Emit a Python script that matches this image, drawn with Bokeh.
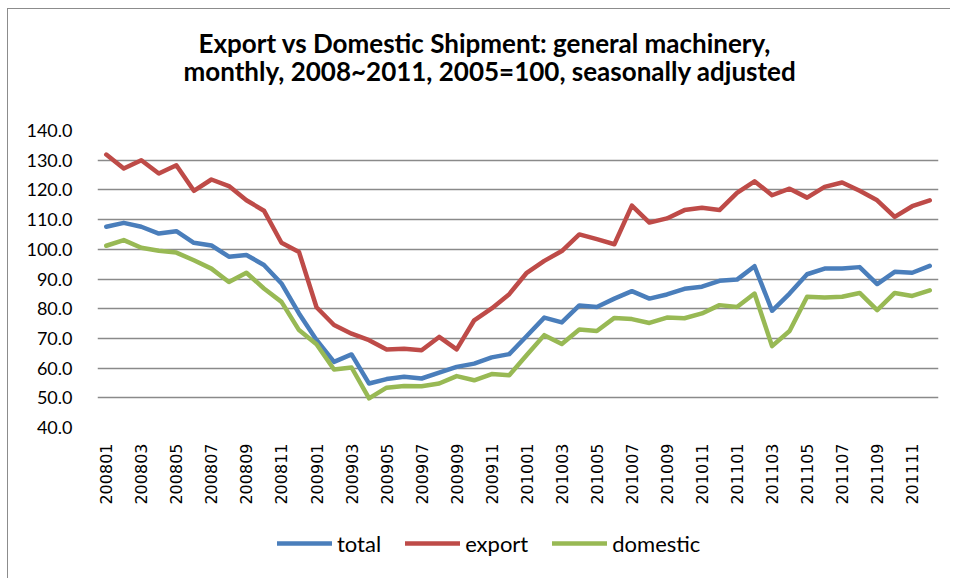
import math
from bokeh.plotting import figure
from bokeh.layouts import column
from bokeh.models import Range1d, Legend, LegendItem, Title, FixedTicker
from bokeh.embed import file_html
from bokeh.resources import INLINE

months = [f"{y}{m:02d}" for y in (2008, 2009, 2010, 2011) for m in range(1, 13)]

total = [107.6, 108.9, 107.6, 105.3, 106.1, 102.2, 101.3, 97.5, 98.1, 94.7, 88.5, 78.4,
         69.5, 62.1, 64.6, 54.8, 56.3, 57.1, 56.5, 58.5, 60.4, 61.5, 63.6, 64.7,
         70.8, 77.0, 75.4, 81.1, 80.6, 83.4, 85.9, 83.4, 84.8, 86.7, 87.4, 89.4,
         89.8, 94.3, 79.3, 85.1, 91.6, 93.5, 93.5, 94.0, 88.3, 92.4, 92.1, 94.4]
export = [131.9, 127.2, 130.0, 125.5, 128.3, 119.7, 123.5, 121.3, 116.5, 113.0, 102.2, 99.1,
          80.5, 74.5, 71.6, 69.4, 66.3, 66.5, 66.0, 70.5, 66.3, 76.1, 80.1, 84.9,
          92.1, 96.1, 99.4, 105.0, 103.4, 101.7, 114.7, 109.0, 110.4, 113.2, 114.0, 113.2,
          119.0, 122.9, 118.2, 120.4, 117.4, 121.0, 122.5, 119.7, 116.5, 110.9, 114.5, 116.5]
domestic = [101.2, 103.1, 100.5, 99.5, 98.9, 96.3, 93.5, 89.0, 92.1, 86.8, 82.3, 72.8,
            68.0, 59.5, 60.2, 49.8, 53.4, 54.0, 53.9, 54.8, 57.3, 55.9, 58.0, 57.6,
            64.4, 71.1, 68.1, 73.0, 72.5, 76.9, 76.5, 75.2, 77.0, 76.8, 78.4, 81.2,
            80.6, 85.1, 67.4, 72.5, 84.0, 83.8, 84.0, 85.3, 79.5, 85.3, 84.3, 86.2]

series_names = ["total", "export", "domestic"]
y_ticks = [40, 50, 60, 70, 80, 90, 100, 110, 120, 130, 140]
title1 = "Export vs Domestic Shipment: general machinery,"
title2 = "monthly, 2008~2011, 2005=100, seasonally adjusted"

idx = list(range(len(months)))
x_ticks = idx[::2]
colors = {"total": "#4a7ebb", "export": "#be4b48", "domestic": "#98b954"}
series = [total, export, domestic]

p = figure(width=942, height=499, output_backend="svg", toolbar_location=None,
           x_range=Range1d(-0.5, len(months) - 0.5),
           y_range=Range1d(40, 140),
           min_border_left=89, min_border_right=12, min_border_top=121, min_border_bottom=81)

def title_box(text, standoff, offset):
    return Title(text=text, align="left", offset=offset, text_font="Lato", text_font_size="26px",
                 text_font_style="bold", text_color="#000000", standoff=standoff)

p.add_layout(title_box(" ", 13, 0), "above")
p.add_layout(title_box(title2, -6, 86), "above")
p.add_layout(title_box(title1, -6, 101), "above")

for name, vals in zip(series_names, series):
    p.line(idx, vals, line_color=colors[name], line_width=4.5, line_join="round", line_cap="round")

p.outline_line_color = None
p.background_fill_color = "white"
p.border_fill_color = "white"

p.xgrid.grid_line_color = None
p.ygrid.grid_line_color = "#8a8a8a"
p.ygrid.grid_line_width = 1.6
p.yaxis.ticker = FixedTicker(ticks=y_ticks)
p.yaxis.major_label_overrides = {t: f"{t:.1f}" for t in y_ticks}
p.yaxis.axis_line_color = None
p.yaxis.major_tick_line_color = None
p.yaxis.major_tick_out = 0
p.yaxis.major_tick_in = 0
p.yaxis.minor_tick_line_color = None
p.yaxis.major_label_text_font = "Lato"
p.yaxis.major_label_text_font_size = "18px"
p.yaxis.major_label_text_color = "#000000"
p.yaxis.major_label_standoff = 25

p.xaxis.ticker = FixedTicker(ticks=x_ticks)
p.xaxis.major_label_overrides = {i: months[i] for i in x_ticks}
p.xaxis.axis_line_color = None
p.xaxis.major_tick_line_color = None
p.xaxis.minor_tick_line_color = None
p.xaxis.major_tick_out = 0
p.xaxis.major_tick_in = 0
p.xaxis.major_label_orientation = math.pi / 2
p.xaxis.major_label_text_font = "DejaVu Sans"
p.xaxis.major_label_text_font_size = "16px"
p.xaxis.major_label_text_color = "#000000"
p.xaxis.major_label_standoff = 16

# legend strip below the chart (its series are kept outside its visible range)
pl = figure(width=942, height=70, output_backend="svg", toolbar_location=None,
            x_range=Range1d(1000, 1001), y_range=Range1d(1000, 1001), min_border=0)
pl.axis.visible = False
pl.grid.visible = False
pl.outline_line_color = None
items = []
for name, vals in zip(series_names, series):
    r = pl.line(idx, vals, line_color=colors[name], line_width=4.5, line_cap="round")
    items.append(LegendItem(label=name, renderers=[r]))
legend = Legend(items=items, orientation="horizontal", location=(180, 21.5),
                glyph_width=55, glyph_height=20, label_standoff=5, spacing=24,
                padding=5, margin=0,
                label_text_font="Lato", label_text_font_size="22px", label_text_color="#000000",
                border_line_color=None, background_fill_alpha=0)
pl.add_layout(legend, "center")

layout = column(p, pl, spacing=0)
layout.styles = {"margin-left": "7px", "margin-top": "8px",
                 "border-left": "1px solid #8c8c8c", "border-top": "1px solid #8c8c8c"}
open("out.html", "w").write(file_html(layout, INLINE))
